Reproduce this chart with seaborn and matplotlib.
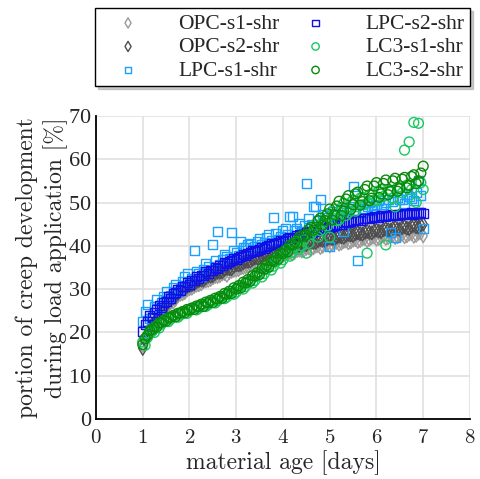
import pandas as pd
import seaborn as sns
import matplotlib.pyplot as plt

# material age in days: main readings and the half-step readings in between
age = [1.0, 1.1, 1.2, 1.3, 1.4, 1.5, 1.6, 1.7, 1.8, 1.9,
       2.0, 2.1, 2.2, 2.3, 2.4, 2.5, 2.6, 2.7, 2.8, 2.9,
       3.0, 3.1, 3.2, 3.3, 3.4, 3.5, 3.6, 3.7, 3.8, 3.9,
       4.0, 4.1, 4.2, 4.3, 4.4, 4.5, 4.6, 4.7, 4.8, 4.9,
       5.0, 5.1, 5.2, 5.3, 5.4, 5.5, 5.6, 5.7, 5.8, 5.9,
       6.0, 6.1, 6.2, 6.3, 6.4, 6.5, 6.6, 6.7, 6.8, 6.9, 7.0]
age_b = [1.05, 1.15, 1.25, 1.35, 1.45, 1.55, 1.65, 1.75, 1.85, 1.95,
         2.05, 2.15, 2.25, 2.35, 2.45, 2.55, 2.65, 2.75, 2.85, 2.95,
         3.05, 3.15, 3.25, 3.35, 3.45, 3.55, 3.65, 3.75, 3.85, 3.95,
         4.05, 4.15, 4.25, 4.35, 4.45, 4.55, 4.65, 4.75, 4.85, 4.95,
         5.05, 5.15, 5.25, 5.35, 5.45, 5.55, 5.65, 5.75, 5.85, 5.95,
         6.05, 6.15, 6.25, 6.35, 6.45, 6.55, 6.65, 6.75, 6.85, 6.95]

opc_s1 = [17.0, 19.0, 21.0, 22.6, 24.3, 25.5, 26.9, 27.6, 28.8, 29.2,
          30.1, 30.6, 31.0, 31.7, 32.0, 32.6, 32.9, 33.5, 33.2, 34.1,
          34.4, 34.9, 35.1, 35.7, 35.8, 36.4, 36.5, 37.1, 37.0, 37.7,
          37.8, 38.3, 38.2, 38.9, 38.8, 39.4, 39.2, 39.9, 39.6, 40.3,
          40.0, 40.7, 40.4, 41.0, 40.7, 41.3, 41.0, 41.6, 41.2, 41.9,
          41.5, 42.1, 41.7, 42.3, 41.9, 42.5, 42.1, 42.7, 42.2, 42.9, 42.3]
opc_s1_b = [18.0, 20.3, 21.6, 23.6, 24.8, 26.4, 27.0, 28.4, 28.9, 29.8,
            30.2, 30.9, 31.2, 31.9, 32.2, 32.9, 33.1, 33.6, 33.8, 34.3,
            34.5, 35.0, 35.3, 35.8, 36.0, 36.5, 36.7, 37.2, 37.3, 37.8,
            38.0, 38.4, 38.5, 39.0, 39.0, 39.5, 39.5, 40.0, 39.9, 40.4,
            40.3, 40.8, 40.6, 41.1, 40.9, 41.4, 41.2, 41.7, 41.5, 42.0,
            41.7, 42.2, 41.9, 42.4, 42.1, 42.6, 42.3, 42.8, 42.4, 43.0]
opc_s2 = [16.3, 19.6, 21.8, 23.2, 25.1, 26.2, 27.8, 28.3, 29.6, 30.1,
          30.9, 31.2, 32.0, 32.1, 33.0, 33.1, 33.9, 34.0, 34.8, 34.7,
          35.6, 35.7, 36.4, 36.5, 37.2, 37.3, 38.0, 38.1, 38.7, 38.6,
          39.3, 39.2, 39.9, 39.8, 40.4, 40.3, 40.9, 40.8, 41.4, 41.2,
          41.8, 41.6, 42.2, 42.0, 42.6, 42.4, 43.0, 42.7, 43.3, 43.0,
          43.6, 43.3, 43.9, 43.6, 44.2, 43.8, 44.4, 44.0, 44.7, 44.3, 45.0]
opc_s2_b = [18.2, 20.9, 22.4, 24.3, 25.6, 27.1, 28.0, 29.0, 29.8, 30.6,
            31.0, 31.7, 32.1, 32.6, 33.0, 33.6, 33.9, 34.5, 34.7, 35.3,
            35.6, 36.1, 36.4, 36.9, 37.2, 37.7, 38.0, 38.4, 38.6, 39.0,
            39.2, 39.6, 39.8, 40.1, 40.3, 40.7, 40.8, 41.2, 41.3, 41.6,
            41.7, 42.0, 42.1, 42.4, 42.5, 42.8, 42.8, 43.1, 43.1, 43.4,
            43.4, 43.7, 43.7, 44.0, 43.9, 44.2, 44.1, 44.5, 44.4, 44.8]
lpc_s1 = [22.5, 26.5, 24.0, 27.5, 26.8, 29.5, 28.6, 31.0, 30.2, 32.8,
          31.5, 38.8, 33.5, 34.6, 35.2, 40.2, 43.4, 36.8, 37.5, 43.0,
          38.4, 40.9, 39.6, 40.5, 39.8, 41.8, 40.8, 42.6, 46.6, 41.5,
          43.5, 42.6, 46.7, 44.0, 43.4, 54.3, 45.0, 49.0, 50.6, 46.0,
          39.8, 47.5, 46.4, 43.2, 48.2, 53.6, 36.5, 47.8, 49.0, 48.2,
          49.5, 48.6, 50.0, 43.0, 42.0, 50.8, 49.8, 51.5, 50.5, 55.0, 44.0]
lpc_s1_b = [24.8, 23.2, 26.0, 25.6, 28.3, 27.8, 30.4, 29.5, 31.8, 33.5,
            32.4, 34.0, 33.0, 35.8, 34.4, 36.6, 35.6, 38.0, 37.0, 38.8,
            37.8, 39.6, 40.2, 39.2, 41.0, 40.2, 42.0, 41.2, 42.8, 42.2,
            44.0, 46.8, 43.6, 45.2, 44.6, 46.2, 49.0, 45.8, 47.2, 46.6,
            48.0, 47.0, 48.4, 47.6, 49.0, 48.2, 49.5, 48.6, 50.0, 49.2,
            50.4, 49.6, 50.8, 50.2, 51.2, 50.6, 51.8, 51.0, 52.2, 51.6]
lpc_s2 = [20.3, 22.6, 23.4, 25.2, 25.8, 27.2, 27.9, 29.1, 29.7, 30.6,
          31.1, 32.0, 32.4, 33.2, 33.6, 34.4, 34.8, 35.5, 35.8, 36.5,
          36.8, 37.5, 37.7, 38.4, 38.6, 39.2, 39.4, 40.0, 40.2, 40.8,
          41.0, 41.6, 41.8, 42.3, 42.5, 43.0, 43.1, 43.6, 43.7, 44.2,
          44.3, 44.8, 44.9, 45.3, 45.3, 45.8, 45.8, 46.2, 46.2, 46.6,
          46.5, 46.9, 46.8, 47.1, 47.0, 47.3, 47.2, 47.5, 47.3, 47.7, 47.5]
lpc_s2_b = [21.8, 23.9, 24.6, 26.2, 26.9, 28.2, 28.9, 30.0, 30.6, 31.5,
            31.9, 32.8, 33.2, 34.0, 34.3, 35.1, 35.4, 36.2, 36.4, 37.1,
            37.3, 38.0, 38.2, 38.9, 39.0, 39.7, 39.8, 40.5, 40.6, 41.2,
            41.3, 41.9, 42.0, 42.6, 42.7, 43.2, 43.3, 43.8, 43.9, 44.4,
            44.5, 45.0, 45.0, 45.5, 45.5, 46.0, 45.9, 46.4, 46.3, 46.7,
            46.6, 47.0, 46.9, 47.2, 47.1, 47.4, 47.3, 47.6, 47.4, 47.8]
lc3_s1 = [17.8, 18.8, 20.2, 21.6, 21.9, 23.0, 23.1, 24.0, 24.0, 24.9,
          25.0, 25.7, 25.6, 26.5, 26.4, 27.3, 27.3, 28.3, 28.2, 29.5,
          29.3, 30.8, 30.6, 32.2, 32.0, 33.9, 33.6, 35.6, 35.3, 37.4,
          36.8, 39.2, 38.5, 41.0, 40.0, 38.3, 42.6, 44.8, 43.5, 46.8,
          42.0, 48.5, 46.0, 49.8, 47.6, 50.6, 49.0, 51.2, 38.3, 52.0,
          50.4, 53.0, 40.2, 52.4, 49.0, 53.6, 62.1, 64.0, 68.5, 68.3, 53.0]
lc3_s1_b = [17.0, 19.8, 20.0, 21.0, 22.6, 22.5, 23.8, 23.5, 24.7, 24.4,
            25.6, 25.2, 26.4, 26.0, 27.2, 26.8, 28.0, 27.8, 29.0, 28.8,
            30.2, 30.0, 31.5, 31.4, 33.0, 32.8, 34.6, 34.4, 36.3, 36.0,
            38.0, 37.6, 39.8, 39.2, 41.4, 40.6, 43.4, 42.0, 45.4, 44.6,
            47.2, 45.8, 48.8, 47.0, 50.0, 48.0, 51.0, 49.6, 51.8, 50.6,
            52.6, 51.4, 53.0, 51.0, 53.4, 52.2, 54.0, 53.0, 50.0, 54.6]
lc3_s2 = [17.2, 19.3, 20.6, 21.2, 22.3, 22.6, 23.5, 23.6, 24.4, 24.5,
          25.2, 25.3, 26.0, 26.0, 26.8, 26.9, 27.7, 27.9, 28.8, 29.0,
          30.0, 30.3, 31.4, 31.8, 33.0, 33.4, 34.6, 35.1, 36.4, 36.9,
          38.2, 38.6, 40.2, 40.6, 42.3, 42.5, 44.3, 44.2, 46.4, 45.8,
          48.5, 47.2, 50.3, 48.0, 51.6, 49.5, 52.4, 50.2, 53.8, 51.0,
          54.6, 52.0, 55.2, 52.6, 55.6, 53.2, 55.8, 54.0, 56.4, 55.0, 58.4]
lc3_s2_b = [18.6, 20.4, 21.3, 22.2, 22.8, 23.4, 23.9, 24.4, 24.8, 25.3,
            25.6, 26.1, 26.5, 27.0, 27.4, 27.9, 28.3, 29.0, 29.5, 30.3,
            30.8, 31.6, 32.2, 33.1, 33.8, 34.8, 35.5, 36.5, 37.3, 38.3,
            39.0, 40.2, 40.8, 42.0, 42.2, 43.8, 43.6, 45.8, 44.8, 47.4,
            46.0, 49.2, 47.0, 50.8, 48.4, 52.0, 49.4, 53.0, 50.4, 53.8,
            51.2, 54.4, 51.8, 55.0, 52.6, 55.4, 53.4, 56.0, 54.4, 56.8]

names = ['OPC-s1-shr', 'OPC-s2-shr', 'LPC-s1-shr', 'LPC-s2-shr', 'LC3-s1-shr', 'LC3-s2-shr']
values = [(opc_s1, opc_s1_b), (opc_s2, opc_s2_b), (lpc_s1, lpc_s1_b),
          (lpc_s2, lpc_s2_b), (lc3_s1, lc3_s1_b), (lc3_s2, lc3_s2_b)]
colors = ['#9a9a9a', '#4d4d4d', '#1aa0ff', '#1010e6', '#19c860', '#0a8a0a']
markers = ['d', 'd', 's', 's', 'o', 'o']
sizes = [48, 48, 42, 42, 50, 50]

sns.set_style('whitegrid')
plt.rcParams['font.family'] = ['Liberation Serif', 'DejaVu Serif']
plt.rcParams['axes.formatter.use_mathtext'] = True

fig = plt.figure(figsize=(4.81, 4.79), dpi=100)
ax = fig.add_axes([0.1996, 0.1253, 0.7774, 0.6327])

for name, (va, vb), col, mk, sz in zip(names, values, colors, markers, sizes):
    df = pd.DataFrame({'age': age + age_b, 'portion': va + vb})
    sns.scatterplot(data=df, x='age', y='portion', ax=ax, marker=mk, s=sz,
                    facecolor='none', edgecolor=col, linewidth=1.0, label=name)

ax.set_xlim(0, 8)
ax.set_ylim(0, 70)
ax.set_xticks(range(0, 9))
ax.set_yticks(range(0, 71, 10))
ax.grid(True, color='#e0e0e0', linewidth=1.2)
for s in ['top', 'right']:
    ax.spines[s].set_visible(False)
for s in ['left', 'bottom']:
    ax.spines[s].set_color('black')
    ax.spines[s].set_linewidth(1.3)
ax.tick_params(direction='in', length=4, width=1.2, color='black')
ax.tick_params(axis='y', labelsize=16, pad=3)
ax.tick_params(axis='x', labelsize=15, pad=7.5)
for lab in ax.get_xticklabels():
    lab.set_fontfamily('cmr10')
ax.set_xlabel('material age [days]', fontfamily='cmr10', fontsize=17, labelpad=2)
ax.set_ylabel('portion of creep development\nduring load application [%]',
              fontfamily='cmr10', fontsize=17, labelpad=0, linespacing=1.3,
              multialignment='right')

handles, labels = ax.get_legend_handles_labels()
ax.get_legend().remove()
leg = fig.legend(handles, labels, ncol=2, loc='upper left',
                 bbox_to_anchor=(0.1975, 0.83, 0.7796, 0.153), mode='expand',
                 fontsize=15.5, frameon=True, fancybox=False, edgecolor='black',
                 markerscale=0.75, handlelength=2.57, handletextpad=1.04,
                 borderpad=0.25, borderaxespad=0, labelspacing=0.16,
                 shadow={'color': '0.6'})
leg.get_frame().set_linewidth(1.0)

plt.savefig('out.png', dpi=100)
